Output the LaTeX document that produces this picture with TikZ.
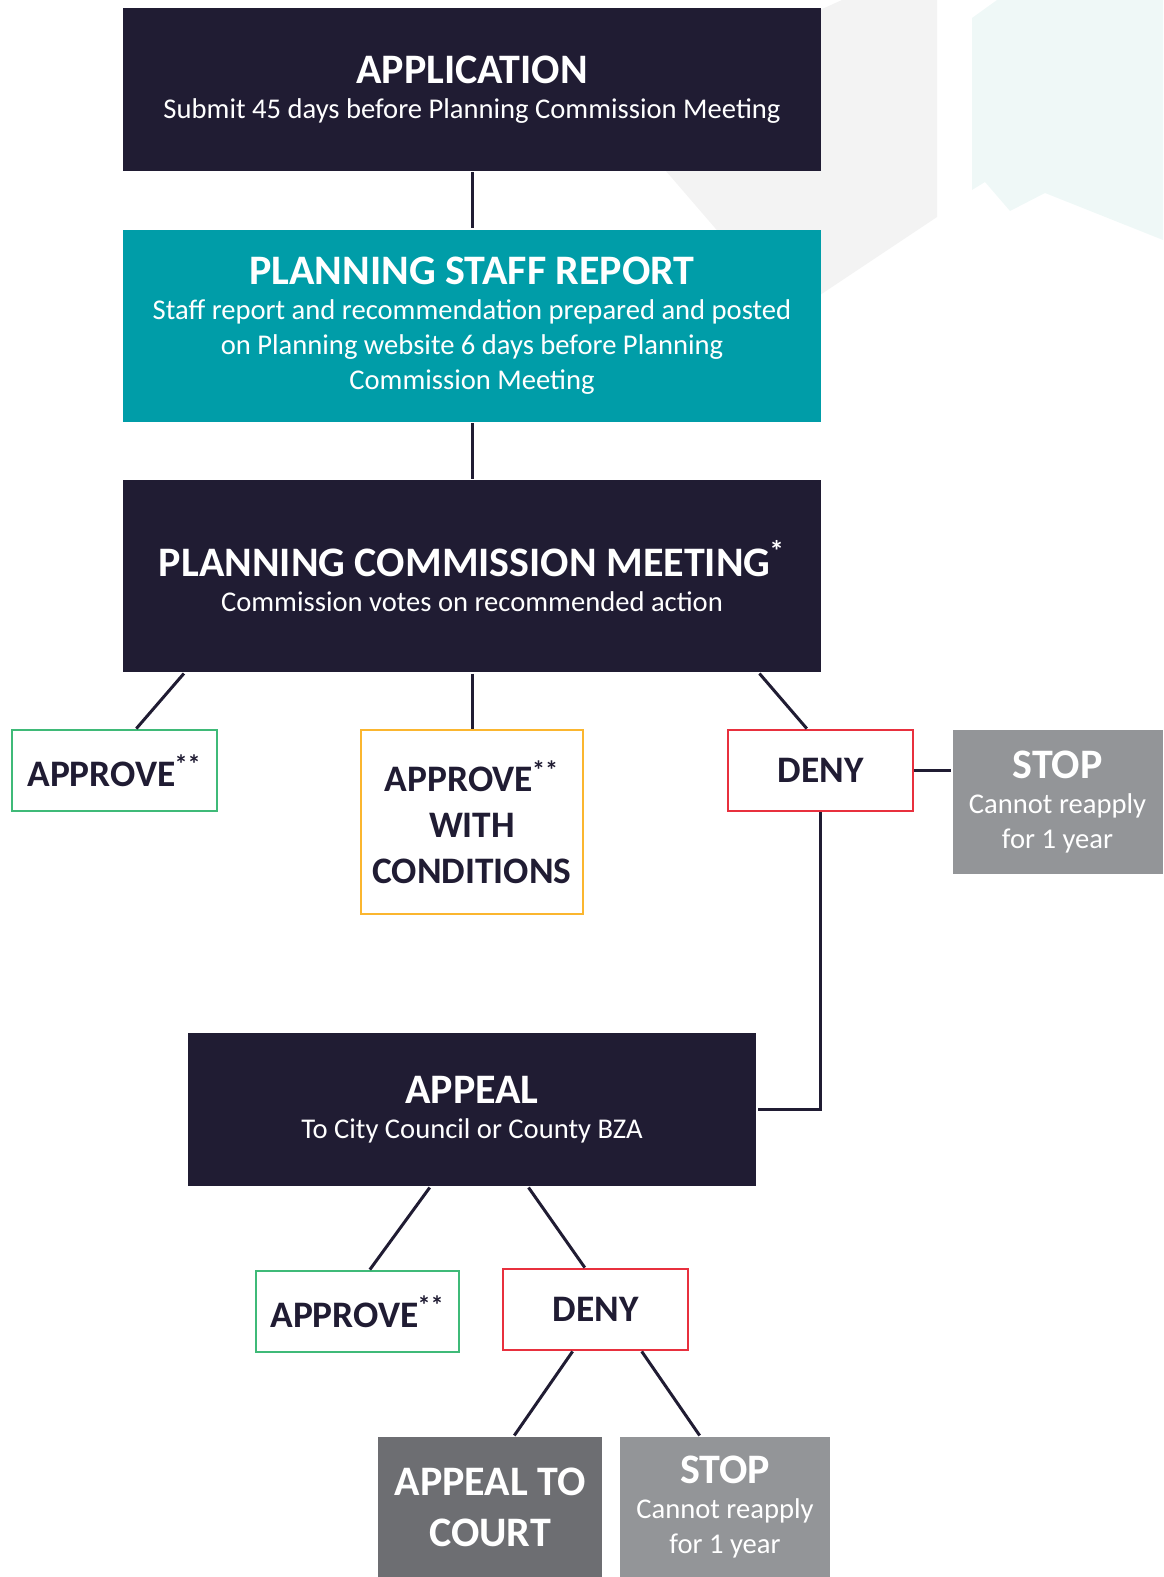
\documentclass[tikz,border=0pt]{standalone}
\usepackage{fontspec}
\setmainfont{Carlito}
\usetikzlibrary{calc}
\definecolor{navy}{HTML}{201C33}
\definecolor{teal}{HTML}{009DA8}
\definecolor{okgreen}{HTML}{3FBA78}
\definecolor{condyellow}{HTML}{FBB62F}
\definecolor{denyred}{HTML}{E8303E}
\definecolor{stopgray}{HTML}{939598}
\definecolor{courtgray}{HTML}{6D6E72}
\definecolor{bggray}{HTML}{F3F3F3}
\definecolor{bgteal}{HTML}{EFF8F7}
\newcommand{\boxtitle}[1]{{\fontsize{21}{21}\selectfont\bfseries #1}}
\newcommand{\stars}[1]{\textsuperscript{\kern-.5pt#1}}
\begin{document}
\begin{tikzpicture}[x=0.5pt, y=-0.5pt, line width=1.5pt, navy,
  dark/.style={fill=navy, text=white, inner sep=0pt, align=center,
    minimum width=349pt, font=\fontsize{14.3}{17.5}\selectfont},
  choice/.style={draw=#1, line width=1.4pt, fill=white, text=navy, inner sep=0pt,
    align=center, minimum height=40.5pt, font=\fontsize{18.7}{22.9}\selectfont\bfseries},
  stopbox/.style={fill=stopgray, text=white, inner sep=0pt, align=center,
    minimum width=105pt, font=\fontsize{14.3}{17.5}\selectfont}]
  \useasboundingbox (0,0) rectangle (1163,1577);
  \fill[bggray] (609,105) -- (842,0) -- (937,0) -- (937,217) -- (790,315) -- cycle;
  \fill[bgteal] (972,18) -- (997,0) -- (1163,0) -- (1163,240) -- (1045,193)
    -- (1010,211) -- (985,182) -- (972,190) -- cycle;

  \node[dark, minimum height=81.5pt] (App) at (472,89.5)
    {\boxtitle{APPLICATION}\\Submit 45 days before Planning Commission Meeting};
  \node[dark, fill=teal, minimum height=96pt] (Rep) at (472,326)
    {\boxtitle{PLANNING STAFF REPORT}\\Staff report and recommendation prepared and posted\\
     on Planning website 6 days before Planning\\Commission Meeting};
  \node[dark, minimum height=96pt] (Meet) at (472,576)
    {\boxtitle{PLANNING COMMISSION MEETING\stars{*}}\\Commission votes on recommended action};

  \node[choice=okgreen, minimum width=102.5pt] (Ok) at (114.5,770.5) {APPROVE\stars{**}};
  \node[choice=condyellow, minimum width=111pt, minimum height=92pt] (OkC) at (472,822)
    {APPROVE\stars{**}\\WITH\\CONDITIONS};
  \node[choice=denyred, minimum width=92.5pt] (Deny) at (820.5,770.5) {DENY};
  \node[stopbox, minimum height=72pt] (Stop) at (1057.5,802) {\boxtitle{STOP}\\Cannot reapply\\for 1 year};

  \node[dark, minimum width=284pt, minimum height=76.5pt] (Appeal) at (472,1109.5)
    {\boxtitle{APPEAL}\\To City Council or County BZA};
  \node[choice=okgreen, minimum width=101.5pt] (OkB) at (357.5,1311.5) {APPROVE\stars{**}};
  \node[choice=denyred, minimum width=92.5pt] (DenyB) at (595.5,1309.5) {DENY};
  \node[stopbox, fill=courtgray, minimum width=112pt, minimum height=70pt,
    font=\fontsize{21}{25.5}\selectfont\bfseries] (Court) at (490,1507) {APPEAL TO\\COURT};
  \node[stopbox, minimum width=105pt, minimum height=70pt] (StopB) at (725,1507)
    {\boxtitle{STOP}\\Cannot reapply\\for 1 year};

  \draw (App) -- (Rep);
  \draw (Rep) -- (Meet);
  \draw (Meet) -- (OkC);
  \draw ($(Meet.south west)!.089!(Meet.south east)$) -- ($(Ok.north west)!.605!(Ok.north east)$);
  \draw ($(Meet.south west)!.91!(Meet.south east)$) -- ($(Deny.north west)!.427!(Deny.north east)$);
  \draw (Deny.east) -- (Deny.east -| Stop.west);
  \draw (Deny.south) |- (Appeal.east);
  \draw ($(Appeal.south west)!.426!(Appeal.south east)$) -- ($(OkB.north west)!.56!(OkB.north east)$);
  \draw ($(Appeal.south west)!.599!(Appeal.south east)$) -- ($(DenyB.north west)!.443!(DenyB.north east)$);
  \draw ($(DenyB.south west)!.378!(DenyB.south east)$) -- ($(Court.north west)!.607!(Court.north east)$);
  \draw ($(DenyB.south west)!.746!(DenyB.south east)$) -- ($(StopB.north west)!.381!(StopB.north east)$);
\end{tikzpicture}
\end{document}
